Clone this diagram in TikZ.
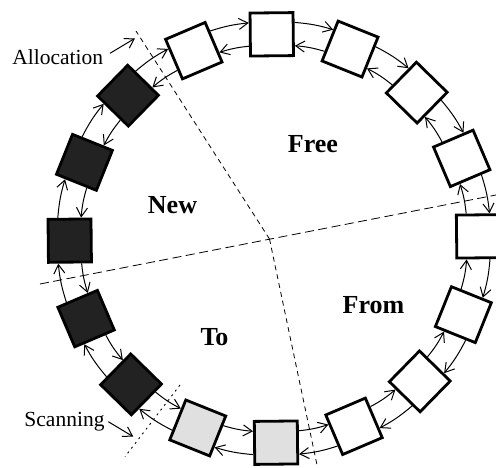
\documentclass[tikz,border=0pt]{standalone}
\usepackage{fontspec}
\setmainfont{Liberation Serif}
\usetikzlibrary{arrows.meta}
\definecolor{boxblack}{HTML}{222222}
\definecolor{boxgrey}{HTML}{E0E0E0}
\begin{document}
\begin{tikzpicture}[x=1pt,y=1pt,
  box/.style={draw, line width=2.8pt, minimum size=43pt, inner sep=0pt},
  link/.style={line width=1pt, -{Straight Barb[length=9pt,width=11pt,line width=1pt]}},
  region/.style={font=\fontsize{26}{30}\selectfont\bfseries, anchor=base, inner sep=0pt},
  note/.style={font=\fontsize{21.5}{26}\selectfont, anchor=base, inner sep=0pt},
  shortdash/.style={line width=0.8pt, dash pattern=on 5pt off 4pt},
  longdash/.style={line width=0.8pt, dash pattern=on 9pt off 4.5pt},
  dotline/.style={line width=0.9pt, dash pattern=on 2pt off 4pt}]
\clip (0,0) rectangle (496,467);
\coordinate (O) at (273.9,228.5);
% dashed region boundaries
\coordinate (C) at (269.5,228);
\coordinate (tl) at (136,436);
\coordinate (le) at (40,183);
\coordinate (ri) at (520,276.7);
\coordinate (bo) at (318.5,-5);
\draw[shortdash] (C) -- (tl);
\draw[longdash] (le) -- (ri);
\draw[shortdash] (C) -- (bo);
\coordinate (s1) at (180,82);
\coordinate (s2) at (125,10.3);
\draw[dotline] (s1) -- (s2);
% boxes
\foreach \k/\c in {0/white,1/white,2/white,3/white,4/white,5/white,6/white,7/white,
                   8/boxgrey,9/boxgrey,10/boxblack,11/boxblack,12/boxblack,13/boxblack,14/boxblack,15/white}{
  \pgfmathsetmacro\a{90.6-22.5*\k}
  \node[box, fill=\c, rotate=\a-90] (b\k) at ([shift={(\a:204.2)}]O) {};
}
% connectors
\foreach \k in {0,...,15}{
  \pgfmathtruncatemacro\n{mod(\k+1,16)}
  \draw[link] (b\k.27) to[bend left=6] (b\n.153);
  \draw[link] (b\n.207) to[bend right=6] (b\k.-27);
}
% labels
\node[region] (new) at (172.5,254) {New};
\node[region] (free) at (313,314) {Free};
\node[region] (from) at (373.5,154) {From};
\node[region] (to) at (214.5,122) {To};
\node[note] (alloc) at (57.8,402) {Allocation};
\node[note] (scan) at (64.5,41) {Scanning};
\coordinate (a1) at (110,413.7);
\coordinate (a2) at (135,428.7);
\draw[link] (a1) -- (a2);
\coordinate (c1) at (108.3,45.3);
\coordinate (c2) at (133.3,30.3);
\draw[link] (c1) -- (c2);
\end{tikzpicture}
\end{document}
